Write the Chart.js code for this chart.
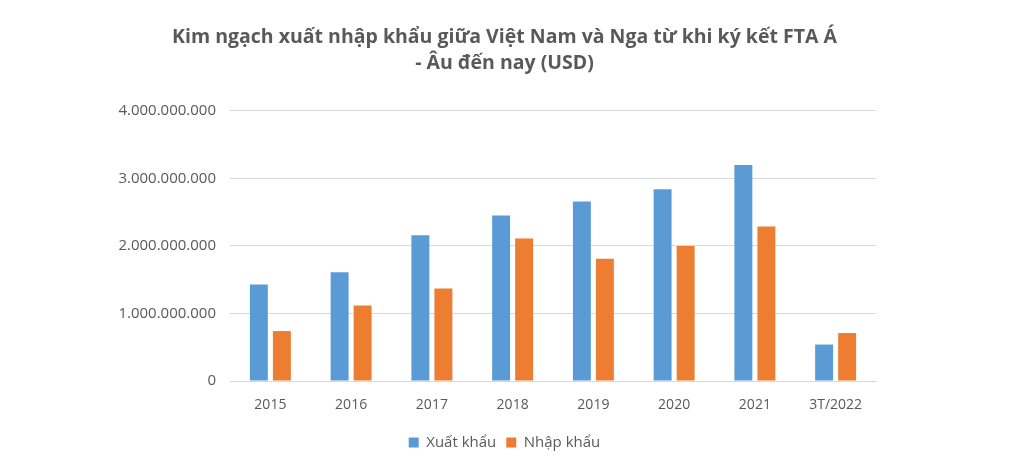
<!DOCTYPE html>
<html><head><meta charset="utf-8">
<script src="https://cdn.jsdelivr.net/npm/chart.js@4/dist/chart.umd.min.js"></script>
<style>html,body{margin:0;padding:0;background:#fff}#wrap{width:1009px;height:468px}</style>
</head><body><div id="wrap"><canvas id="c"></canvas></div>
<script>
const categories = ["2015","2016","2017","2018","2019","2020","2021","3T/2022"];
const xuatKhau = [1430000000,1610000000,2160000000,2450000000,2660000000,2840000000,3200000000,540000000];
const nhapKhau = [740000000,1120000000,1370000000,2110000000,1810000000,2000000000,2290000000,710000000];
const yTicks = [0,1000000000,2000000000,3000000000,4000000000];
const titleLines = ["Kim ngạch xuất nhập khẩu giữa Việt Nam và Nga từ khi ký kết FTA Á","- Âu đến nay (USD)"];
const seriesNames = ["Xuất khẩu","Nhập khẩu"];

const fmt = v => String(v).replace(/\B(?=(\d{3})+(?!\d))/g, ".");
const FONT = "'Open Sans', 'Liberation Sans', sans-serif";
new Chart(document.getElementById('c'), {
  type: 'bar',
  data: {
    labels: categories,
    datasets: [
      {label: seriesNames[0], data: xuatKhau, backgroundColor: '#5B9BD5', yAxisID: 'y'},
      {label: seriesNames[1], data: nhapKhau, backgroundColor: '#ED7D31', yAxisID: 'y'}
    ]
  },
  options: {
    responsive: true, maintainAspectRatio: false, animation: false,
    layout: {padding: {top: 0, right: 0, bottom: 8, left: 0}},
    datasets: {bar: {categoryPercentage: 0.57, barPercentage: 0.78}},
    plugins: {
      title: {display: true, text: titleLines, color: '#595959',
        font: {family: FONT, size: 19.5, weight: 'bold', lineHeight: 1.333},
        padding: {top: 24, bottom: 35}},
      legend: {position: 'bottom', labels: {color: '#595959', font: {family: FONT, size: 15},
        boxWidth: 10, boxHeight: 10, padding: 10}},
      tooltip: {enabled: false}
    },
    scales: {
      x: {grid: {display: false}, border: {color: '#D9D9D9'},
        ticks: {color: '#595959', font: {family: FONT, size: 14}, padding: 8},
        afterFit: s => { s.height = 44; }},
      y: {min: 0, max: 4000000000,
        afterBuildTicks: s => { s.ticks = yTicks.map(v => ({value: v})); },
        grid: {color: '#D9D9D9', drawTicks: false}, border: {display: false},
        ticks: {color: '#595959', font: {family: FONT, size: 15}, padding: 14, callback: v => fmt(v)},
        afterFit: s => { s.width = 230; }},
      yRight: {position: 'right', min: 0, max: 1,
        grid: {display: false, drawTicks: false}, border: {display: false},
        ticks: {display: false},
        afterFit: s => { s.width = 133; }}
    }
  }
});
</script></body></html>
